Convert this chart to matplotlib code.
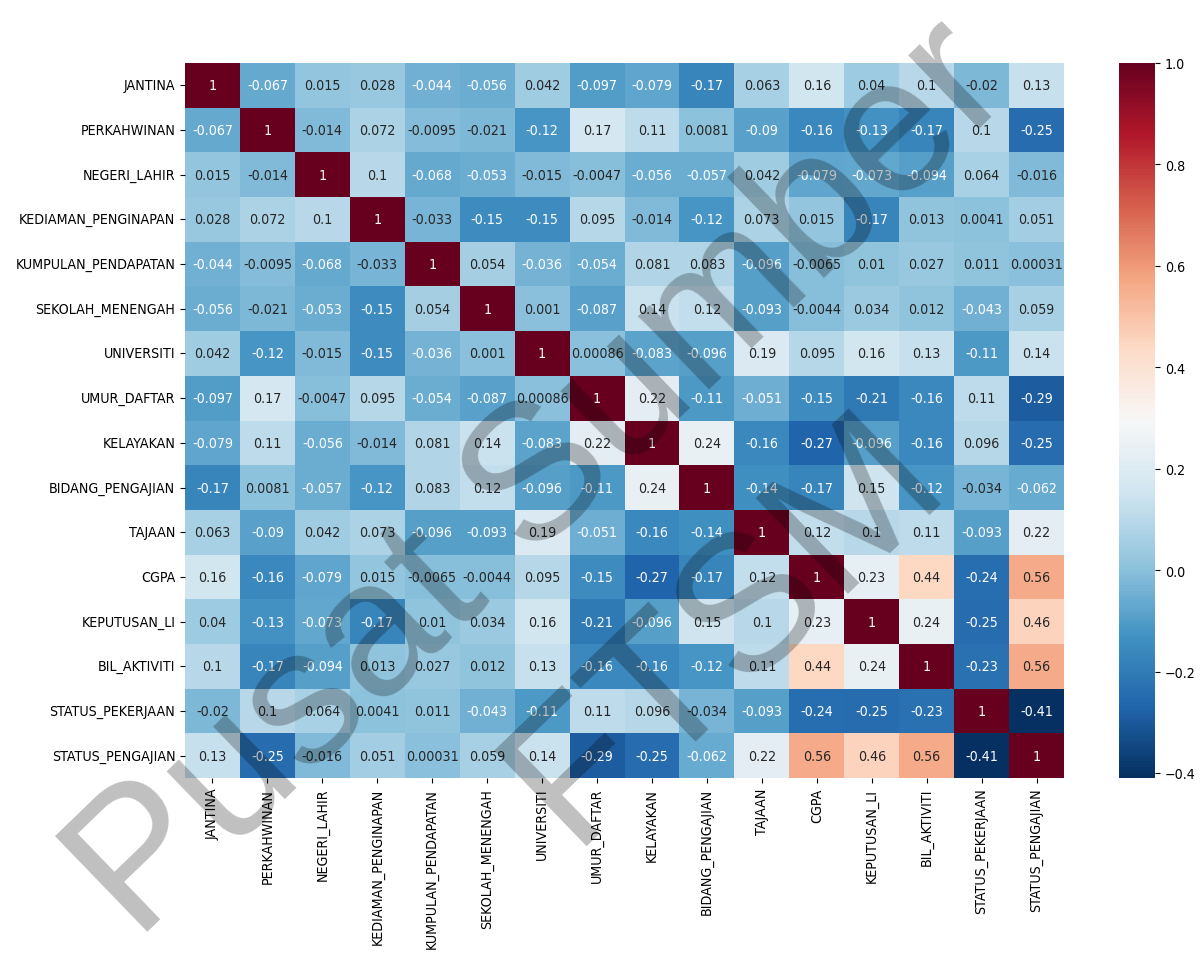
import numpy as np
import matplotlib
matplotlib.use("Agg")
import matplotlib.pyplot as plt
import seaborn as sns

features = [
    "JANTINA", "PERKAHWINAN", "NEGERI_LAHIR", "KEDIAMAN_PENGINAPAN",
    "KUMPULAN_PENDAPATAN", "SEKOLAH_MENENGAH", "UNIVERSITI", "UMUR_DAFTAR",
    "KELAYAKAN", "BIDANG_PENGAJIAN", "TAJAAN", "CGPA", "KEPUTUSAN_LI",
    "BIL_AKTIVITI", "STATUS_PEKERJAAN", "STATUS_PENGAJIAN",
]

# Correlation matrix, one row per feature
jantina = [1, -0.067, 0.015, 0.028, -0.044, -0.056, 0.042, -0.097, -0.079, -0.17, 0.063, 0.16, 0.04, 0.1, -0.02, 0.13]
perkahwinan = [-0.067, 1, -0.014, 0.072, -0.0095, -0.021, -0.12, 0.17, 0.11, 0.0081, -0.09, -0.16, -0.13, -0.17, 0.1, -0.25]
negeri_lahir = [0.015, -0.014, 1, 0.1, -0.068, -0.053, -0.015, -0.0047, -0.056, -0.057, 0.042, -0.079, -0.073, -0.094, 0.064, -0.016]
kediaman = [0.028, 0.072, 0.1, 1, -0.033, -0.15, -0.15, 0.095, -0.014, -0.12, 0.073, 0.015, -0.17, 0.013, 0.0041, 0.051]
kumpulan = [-0.044, -0.0095, -0.068, -0.033, 1, 0.054, -0.036, -0.054, 0.081, 0.083, -0.096, -0.0065, 0.01, 0.027, 0.011, 0.00031]
sekolah = [-0.056, -0.021, -0.053, -0.15, 0.054, 1, 0.001, -0.087, 0.14, 0.12, -0.093, -0.0044, 0.034, 0.012, -0.043, 0.059]
universiti = [0.042, -0.12, -0.015, -0.15, -0.036, 0.001, 1, 0.00086, -0.083, -0.096, 0.19, 0.095, 0.16, 0.13, -0.11, 0.14]
umur_daftar = [-0.097, 0.17, -0.0047, 0.095, -0.054, -0.087, 0.00086, 1, 0.22, -0.11, -0.051, -0.15, -0.21, -0.16, 0.11, -0.29]
kelayakan = [-0.079, 0.11, -0.056, -0.014, 0.081, 0.14, -0.083, 0.22, 1, 0.24, -0.16, -0.27, -0.096, -0.16, 0.096, -0.25]
bidang = [-0.17, 0.0081, -0.057, -0.12, 0.083, 0.12, -0.096, -0.11, 0.24, 1, -0.14, -0.17, 0.15, -0.12, -0.034, -0.062]
tajaan = [0.063, -0.09, 0.042, 0.073, -0.096, -0.093, 0.19, -0.051, -0.16, -0.14, 1, 0.12, 0.1, 0.11, -0.093, 0.22]
cgpa = [0.16, -0.16, -0.079, 0.015, -0.0065, -0.0044, 0.095, -0.15, -0.27, -0.17, 0.12, 1, 0.23, 0.44, -0.24, 0.56]
keputusan_li = [0.04, -0.13, -0.073, -0.17, 0.01, 0.034, 0.16, -0.21, -0.096, 0.15, 0.1, 0.23, 1, 0.24, -0.25, 0.46]
bil_aktiviti = [0.1, -0.17, -0.094, 0.013, 0.027, 0.012, 0.13, -0.16, -0.16, -0.12, 0.11, 0.44, 0.24, 1, -0.23, 0.56]
status_pekerjaan = [-0.02, 0.1, 0.064, 0.0041, 0.011, -0.043, -0.11, 0.11, 0.096, -0.034, -0.093, -0.24, -0.25, -0.23, 1, -0.41]
status_pengajian = [0.13, -0.25, -0.016, 0.051, 0.00031, 0.059, 0.14, -0.29, -0.25, -0.062, 0.22, 0.56, 0.46, 0.56, -0.41, 1]

corr = np.array([
    jantina, perkahwinan, negeri_lahir, kediaman, kumpulan, sekolah,
    universiti, umur_daftar, kelayakan, bidang, tajaan, cgpa,
    keputusan_li, bil_aktiviti, status_pekerjaan, status_pengajian,
])

plt.rcParams["font.family"] = ["DejaVu Sans"]
plt.rcParams["font.stretch"] = "condensed"

W, H = 1200, 954
fig = plt.figure(figsize=(W / 100, H / 100), dpi=100)

# axes placed in pixel units
def px_axes(left, top, right, bottom):
    return fig.add_axes([left / W, 1 - bottom / H, (right - left) / W, (bottom - top) / H])

ax = px_axes(185, 64, 1064, 779)
cax = px_axes(1119, 64, 1155, 779)

sns.heatmap(corr, annot=True, cmap="RdBu_r", ax=ax, cbar_ax=cax,
            xticklabels=features, yticklabels=features,
            annot_kws={"fontsize": 10.2})

ax.tick_params(labelsize=10.2)
ax.set_xticklabels(features, rotation=90)
ax.set_yticklabels(features, rotation=0)
cax.tick_params(labelsize=10.2)
cax.set_yticks([-0.4, -0.2, 0.0, 0.2, 0.4, 0.6, 0.8, 1.0])

# watermark, two diagonal lines
def px_text(x, y, s):
    fig.text(x / W, 1 - y / H, s, rotation=44, rotation_mode="anchor",
             ha="center", va="baseline", fontsize=139, stretch="normal",
             family=["Liberation Sans", "DejaVu Sans"],
             color="black", alpha=0.25, zorder=10)

px_text(577, 518, "Pusat Sumber")
px_text(760, 664, "FTSM")

fig.savefig("out.png", dpi=100)
